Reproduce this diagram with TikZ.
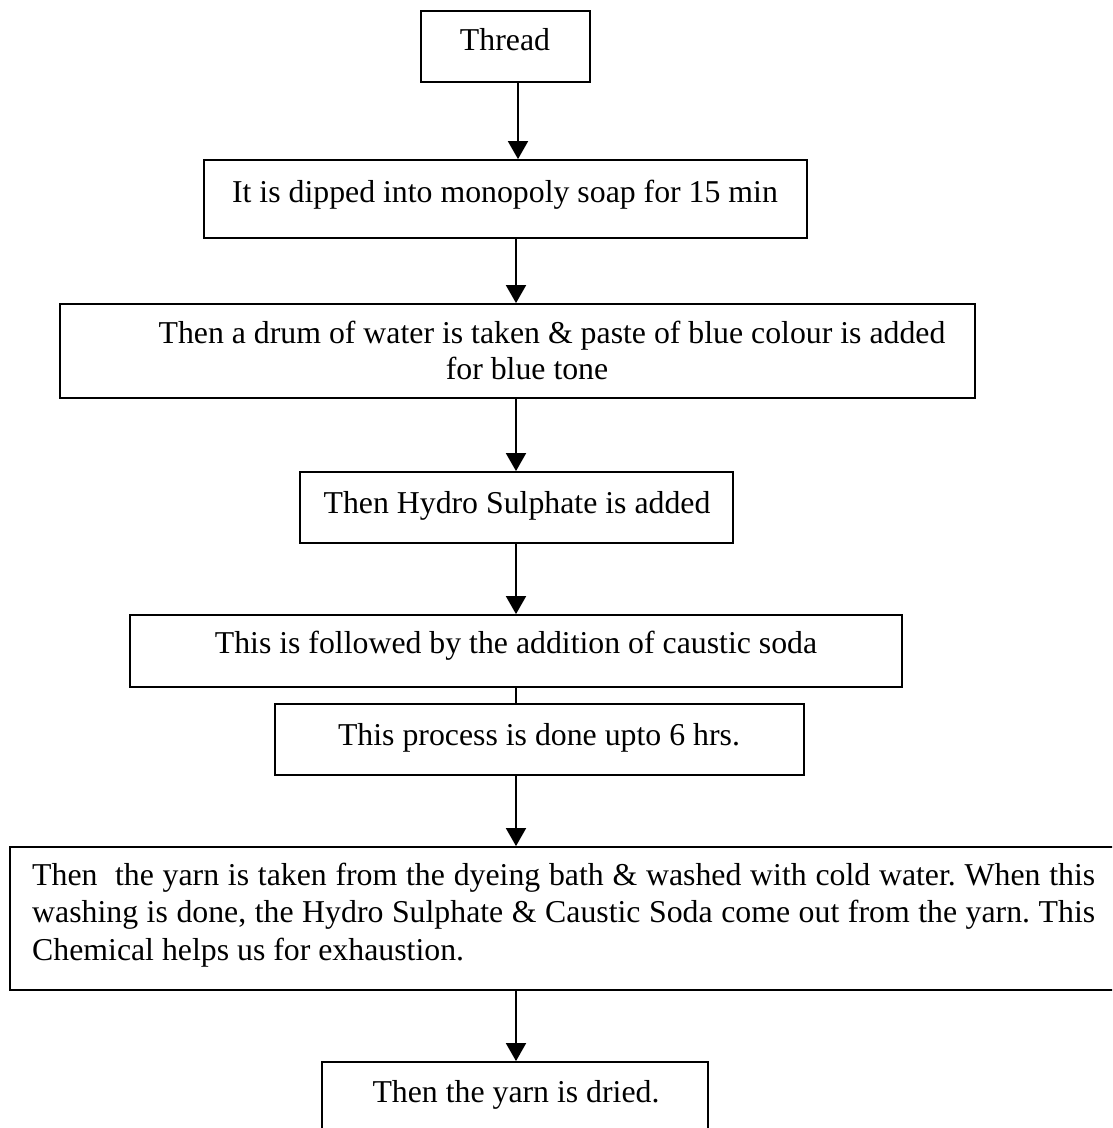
\documentclass[tikz,border=0pt]{standalone}
\usepackage{fontspec}
\setmainfont{Liberation Serif}
\usetikzlibrary{arrows.meta}
\frenchspacing
\begin{document}
\begin{tikzpicture}[x=1pt,y=-1pt,
  box/.style={draw, line width=1.8pt, inner sep=0pt, rectangle},
  txt/.style={inner sep=0pt, font=\fontsize{31.8}{37.5}\selectfont, anchor=base},
  arr/.style={line width=1.8pt, -{Triangle[length=18pt,width=20pt]}},
  link/.style={line width=1.8pt}]
\path[use as bounding box, clip] (0,0) rectangle (1112,1128);
\fill[white] (0,0) rectangle (1112,1128);
% boxes
\node[box, minimum width=169pt, minimum height=71pt] (b1) at (505.5,46.5) {};
\node[box, minimum width=603pt, minimum height=78pt] (b2) at (505.5,199) {};
\node[box, minimum width=915pt, minimum height=94pt] (b3) at (517.5,351) {};
\node[box, minimum width=433pt, minimum height=71pt] (b4) at (516.5,507.5) {};
\node[box, minimum width=772pt, minimum height=72pt] (b5) at (516,651) {};
\node[box, minimum width=529pt, minimum height=71pt] (b6) at (539.5,739.5) {};
\node[box, minimum width=1115pt, minimum height=143pt] (b7) at (567.5,918.5) {};
\node[box, minimum width=386pt, minimum height=78pt] (b8) at (515,1101) {};
% texts
\node[txt] (t1) at (505,50) {Thread};
\node[txt] (t2) at (505,202) {It is dipped into monopoly soap for 15 min};
\node[txt] (t3a) at (552,343) {Then a drum of water is taken \& paste of blue colour is added};
\node[txt] (t3b) at (527,379) {for blue tone};
\node[txt] (t4) at (517,513) {Then Hydro Sulphate is added};
\node[txt] (t5) at (516,653) {This is followed by the addition of caustic soda};
\node[txt] (t6) at (539,745) {This process is done upto 6 hrs.};
\node[txt, anchor=base west] (t7) at (32,885) {\parbox[t]{1063pt}{\fontsize{31.8}{37.5}\selectfont\tolerance=10000
Then\ \ the yarn is taken from the dyeing bath \& washed with cold water. When this\linebreak
washing is done, the Hydro Sulphate \& Caustic Soda come out from the yarn. This\linebreak
Chemical helps us for exhaustion.}};
\node[txt] (t8) at (516,1102) {Then the yarn is dried.};
% connectors
\coordinate (xa) at (518,0);
\coordinate (xb) at (516,0);
\draw[arr] (b1.south -| xa) -- (b2.north -| xa);
\draw[arr] (b2.south -| xb) -- (b3.north -| xb);
\draw[arr] (b3.south -| xb) -- (b4.north -| xb);
\draw[arr] (b4.south -| xb) -- (b5.north -| xb);
\draw[link] (b5.south -| xb) -- (b6.north -| xb);
\draw[arr] (b6.south -| xb) -- (b7.north -| xb);
\draw[arr] (b7.south -| xb) -- (b8.north -| xb);
\end{tikzpicture}
\end{document}
